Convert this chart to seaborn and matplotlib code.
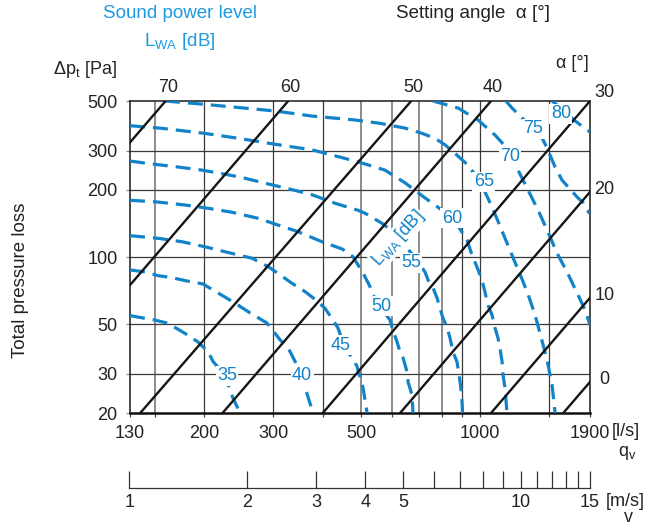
import numpy as np
import pandas as pd
import matplotlib
matplotlib.use("Agg")
import matplotlib.pyplot as plt
import seaborn as sns

# ---------------- data ----------------
# setting-angle system lines: flow (l/s) where each line meets 20 Pa and 500 Pa
angles = [70, 60, 50, 40, 30, 20, 10, 0]
angle_q_at_20pa = [33.5, 68.5, 138, 223, 400, 628, 1067, 1626]
angle_q_at_500pa = [160, 327, 670, 1067, 1900, 2996, 5090, 7760]

# sound power level curves (flow l/s, pressure Pa)
lwa_levels = [35, 40, 45, 50, 55, 60, 65, 70, 75, 80]
L35_q = [130, 150, 162, 179, 193, 205, 211, 226, 237, 247]
L35_p = [54.6, 52.2, 50.5, 45.5, 41.7, 37.6, 34.0, 29.6, 23.3, 20]
L40_q = [130, 142, 153, 166, 181, 199, 211, 226, 244, 262, 289, 312, 327, 344, 361, 378]
L40_p = [87.5, 85.7, 82.5, 80.8, 78.1, 75.7, 71.1, 66.2, 60.9, 56.1, 50.6, 42.5, 39.1, 32.8, 25.9, 20]
L45_q = [130, 153, 176, 201, 226, 265, 291, 308, 334, 361, 389, 405, 422, 437, 450, 474, 488, 506, 518]
L45_p = [124.6, 121.3, 117.1, 111.2, 105.6, 98.7, 90.5, 84.5, 76.3, 69.9, 63.1, 58.9, 53.1, 48.1, 41.5, 35.3, 32.5, 25.9, 20]
L50_q = [130, 150, 179, 205, 236, 274, 308, 346, 398, 448, 477, 506, 527, 536, 559, 592, 602, 617, 628, 639, 654, 658, 673, 677]
L50_p = [179.5, 176.9, 171.0, 165.3, 158.6, 149.1, 139.1, 129.9, 117.1, 108.6, 100.3, 84.7, 73.6, 67.6, 59.9, 52.2, 47.1, 41.6, 37.5, 35.3, 30.5, 27.5, 24.1, 20]
L55_q = [130, 148, 169, 198, 226, 250, 286, 321, 376, 430, 491, 512, 565, 585, 646, 697, 726, 739, 761, 779, 792, 806, 825, 840, 855, 875, 891, 899, 904]
L55_p = [269, 261, 254, 245, 235, 227, 214, 204, 190, 174, 162, 157, 141.5, 135, 113, 95, 85.7, 78.9, 72.6, 65.5, 59.1, 53.3, 48.6, 43.4, 37.5, 33.9, 27.5, 24.1, 20]
L60_q = [130, 157, 201, 240, 303, 376, 491, 575, 646, 726, 806, 880, 928, 955, 983, 1012, 1030, 1048, 1073, 1092, 1111, 1124, 1138, 1144, 1158, 1171]
L60_p = [387.5, 377, 358, 342, 320, 302, 267, 245, 215, 184, 161, 138, 119, 102, 90.2, 78.9, 69.7, 60.9, 55.0, 48.1, 43.4, 39.1, 33.9, 29.6, 25.9, 20]
L65_q = [159.4, 201, 240, 303, 376, 483, 559, 646, 714, 770, 816, 865, 933, 977, 1024, 1073, 1124, 1171, 1220, 1271, 1323, 1379, 1428, 1479, 1523, 1550]
L65_p = [500, 483, 469, 451, 428, 411, 397, 378, 358, 340, 318, 291, 258, 231, 200, 167.5, 137.7, 115.5, 96.9, 81.6, 68.3, 55.0, 43.8, 34.6, 26.7, 20]
L70_q = [760.6, 880, 989, 1092, 1158, 1192, 1249, 1323, 1404, 1488, 1568, 1662, 1772, 1846, 1900]
L70_p = [500, 465, 411, 352, 314, 286, 245, 200, 162, 129, 104, 85.7, 67.6, 57.9, 49.6]
L75_q = [1164, 1206, 1278, 1363, 1436, 1479, 1550, 1614, 1672, 1761, 1825, 1889, 1900]
L75_p = [500, 465, 420, 378, 342, 308, 253, 221, 206, 186, 175, 158, 157]
L80_q = [1523, 1614, 1742, 1900]
L80_p = [500, 460, 407, 363]

# where the dB numbers sit on the curves
lwa_label_q = [228.8, 354.5, 444.9, 561.9, 669.1, 849.8, 1024, 1192, 1363, 1604]
lwa_label_p = [29.3, 29.3, 40.3, 60.3, 94.0, 149.5, 216.8, 283.4, 374.6, 437.3]

# axes ticks / grid
q_ticks = [130, 200, 300, 500, 1000, 1900]
p_ticks = [20, 30, 50, 100, 200, 300, 500]
q_grid_dark = [200, 300, 400, 900, 1000, 1500]
q_grid_light = [150, 500, 600, 700, 800]
p_grid = [30, 50, 100, 200, 300]
v_ticks = [1, 2, 3, 4, 5, 6, 7, 8, 9, 10, 11, 12, 13, 14, 15]
v_labels = [1, 2, 3, 4, 5, 10, 15]

# ---------------- style ----------------
sns.set_theme(style="white")
plt.rcParams["font.family"] = ["Liberation Sans", "DejaVu Sans"]
plt.rcParams["mathtext.fontset"] = "custom"
plt.rcParams["mathtext.rm"] = "Liberation Sans"
plt.rcParams["mathtext.it"] = "Liberation Sans:italic"
plt.rcParams["mathtext.bf"] = "Liberation Sans:bold"

BLUE = "#1283c8"
TITLE_BLUE = "#1e9ae0"
TXT = "#222222"
FS = 13
TFS = 13.5

W, H = 661, 530
fig = plt.figure(figsize=(W / 100, H / 100), dpi=100)


def fx(px):
    return px / W


def fy(py):
    return 1 - py / H


ax = fig.add_axes([fx(130), fy(413), fx(590) - fx(130), fy(101) - fy(413)])
ax.set_xscale("log")
ax.set_yscale("log")

# grid
for q in q_grid_dark:
    ax.axvline(q, color="#3a3a3a", lw=0.9, zorder=1)
for q in q_grid_light:
    ax.axvline(q, color="#8c8c8c", lw=1.4, zorder=1)
for p in p_grid:
    ax.axhline(p, color="#3a3a3a", lw=0.9, zorder=1)

# sound power curves
curves = [(L35_q, L35_p), (L40_q, L40_p), (L45_q, L45_p), (L50_q, L50_p), (L55_q, L55_p),
          (L60_q, L60_p), (L65_q, L65_p), (L70_q, L70_p), (L75_q, L75_p), (L80_q, L80_p)]
for lvl, (cq, cp) in zip(lwa_levels, curves):
    d = pd.DataFrame({"q": cq, "p": cp})
    sns.lineplot(data=d, x="q", y="p", ax=ax, color=BLUE, lw=2.3, estimator=None,
                 sort=False, zorder=3)
    ax.lines[-1].set_dashes((4.7, 2.5))
    ax.lines[-1].set_dash_capstyle("butt")

# setting angle lines
for a, q20, q500 in zip(angles, angle_q_at_20pa, angle_q_at_500pa):
    d = pd.DataFrame({"q": [q20, q500], "p": [20, 500]})
    sns.lineplot(data=d, x="q", y="p", ax=ax, color="#151515", lw=1.7, estimator=None,
                 sort=False, zorder=4)
    if q500 < 1900:
        ax.annotate(str(a), xy=(q500, 500), xytext=(1.5, 9.5), textcoords="offset points",
                    ha="center", va="center", fontsize=FS, color=TXT, annotation_clip=False)
    else:
        k = np.log(500 / 20) / np.log(q500 / q20)
        p_edge = 20 * (1900 / q20) ** k
        off_y = 6 if p_edge >= 499 else 1.5
        ax.annotate(str(a), xy=(1900, p_edge), xytext=(10.5, off_y), textcoords="offset points",
                    ha="center", va="center", fontsize=FS, color=TXT, annotation_clip=False)

# curve labels
for lvl, lq, lp in zip(lwa_levels, lwa_label_q, lwa_label_p):
    ax.text(lq, lp, str(lvl), color=BLUE, fontsize=FS, ha="center", va="center",
            bbox=dict(facecolor="white", edgecolor="none", pad=1.0), zorder=6)

ax.text(620, 121.7, r"L$_\mathrm{WA}$ [dB]", color=BLUE, fontsize=FS, rotation=48,
        ha="center", va="center", rotation_mode="anchor",
        bbox=dict(facecolor="white", edgecolor="none", pad=0.5), zorder=3.5)

ax.set_xlim(130, 1900)
ax.set_ylim(20, 500)
ax.set_xlabel("")
ax.set_ylabel("")
ax.xaxis.set_minor_locator(matplotlib.ticker.FixedLocator(q_grid_dark + q_grid_light))
ax.xaxis.set_minor_formatter(matplotlib.ticker.NullFormatter())
ax.yaxis.set_minor_locator(matplotlib.ticker.NullLocator())
ax.set_xticks(q_ticks)
ax.set_xticklabels([str(v) for v in q_ticks])
ax.set_yticks(p_ticks)
ax.set_yticklabels([str(v) for v in p_ticks])
ax.tick_params(axis="x", which="major", direction="out", length=3, width=0.9, color="#444444",
               pad=5.5, labelsize=FS, labelcolor=TXT, bottom=True)
ax.tick_params(axis="x", which="minor", direction="out", length=3, width=0.9, color="#444444",
               bottom=True)
ax.tick_params(axis="y", which="major", direction="out", length=3, width=0.9, color="#888888",
               pad=6, labelsize=FS, labelcolor=TXT, left=True)
for s in ["top", "right", "left"]:
    ax.spines[s].set_color("#1a1a1a")
    ax.spines[s].set_linewidth(1.1)
ax.spines["bottom"].set_color("#111111")
ax.spines["bottom"].set_linewidth(1.8)

# velocity axis
vax = fig.add_axes([fx(129.4), fy(488), fx(590) - fx(129.4), 0.04])
vax.set_xscale("log")
vax.set_xlim(1, 15)
vax.set_ylim(0, 1)
vax.set_yticks([])
vax.xaxis.set_minor_locator(matplotlib.ticker.NullLocator())
vax.set_xticks(v_ticks)
vax.set_xticklabels([str(v) if v in v_labels else "" for v in v_ticks])
vax.tick_params(axis="x", direction="in", length=12, width=0.9, color="#333333", pad=4.5,
                labelsize=FS, labelcolor=TXT, bottom=True)
for s in ["top", "right", "left"]:
    vax.spines[s].set_visible(False)
vax.spines["bottom"].set_color("#333333")
vax.spines["bottom"].set_linewidth(0.9)
vax.patch.set_alpha(0)

# surrounding texts
fig.text(fx(180), fy(14), "Sound power level", color=TITLE_BLUE, fontsize=TFS, ha="center", va="center")
fig.text(fx(180), fy(42), r"L$_\mathrm{WA}$ [dB]", color=TITLE_BLUE, fontsize=TFS, ha="center", va="center")
fig.text(fx(473), fy(14), "Setting angle  α [°]", color=TXT, fontsize=TFS, ha="center", va="center")
fig.text(fx(117), fy(70), r"Δp$_\mathrm{t}$ [Pa]", color=TXT, fontsize=FS, ha="right", va="center")
fig.text(fx(589), fy(64), "α [°]", color=TXT, fontsize=FS, ha="right", va="center")
fig.text(fx(20.5), fy(358), "Total pressure loss", color=TXT, fontsize=13.5, rotation=90,
         ha="center", va="bottom")
fig.text(fx(612), fy(432), "[l/s]", color=TXT, fontsize=FS, ha="left", va="center")
fig.text(fx(627), fy(453), r"q$_\mathrm{v}$", color=TXT, fontsize=FS, ha="center", va="center")
fig.text(fx(606), fy(502), "[m/s]", color=TXT, fontsize=FS, ha="left", va="center")
fig.text(fx(628), fy(518), "v", color=TXT, fontsize=FS, ha="center", va="center")

fig.savefig("out.png", dpi=100)
